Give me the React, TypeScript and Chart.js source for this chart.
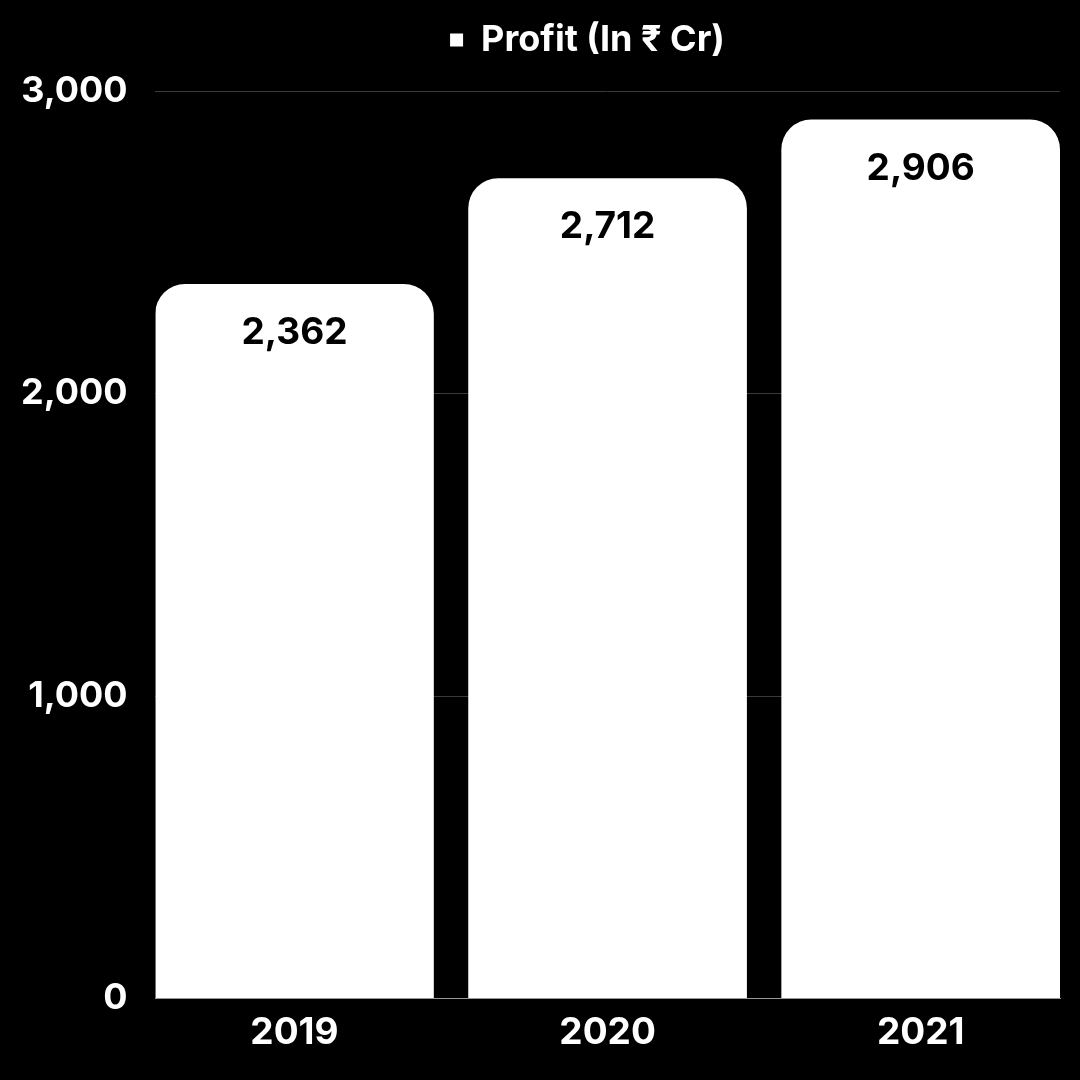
import React, { useEffect, useRef } from "react";
import { Chart, registerables } from "chart.js";

Chart.register(...registerables);

const years = ["2019", "2020", "2021"];
const profit = [2362, 2712, 2906];
const yTicks = [0, 1000, 2000, 3000];
const seriesLabel = "Profit (In ₹ Cr)";

const FONT = "Inter, 'Noto Sans', 'DejaVu Sans', sans-serif";

const valueLabels = {
  id: "valueLabels",
  afterDatasetsDraw(chart: any) {
    const ctx = chart.ctx;
    const meta = chart.getDatasetMeta(0);
    ctx.save();
    ctx.fillStyle = "#000000";
    ctx.font = `700 37px ${FONT}`;
    ctx.textAlign = "center";
    ctx.textBaseline = "middle";
    meta.data.forEach((bar: any, i: number) => {
      const v = chart.data.datasets[0].data[i].y;
      ctx.fillText(v.toLocaleString("en-US"), bar.x, bar.y + 49);
    });
    ctx.restore();
  },
};

const legendSpacer = {
  id: "legendSpacer",
  afterInit(chart: any) {
    const lg = chart.legend;
    if (!lg || lg.__spaced) return;
    const orig = lg.fit.bind(lg);
    lg.fit = function () {
      orig();
      this.height += 23;
    };
    lg.__spaced = true;
  },
  afterLayout(chart: any) {
    const lg = chart.legend;
    if (!lg) return;
    const shift = 61;
    lg.left += shift;
    lg.right += shift;
    if (lg.legendHitBoxes) lg.legendHitBoxes.forEach((h: any) => (h.left += shift));
  },
};

export default function App() {
  const ref = useRef<HTMLCanvasElement>(null);
  useEffect(() => {
    let chart: any = null;
    let cancelled = false;
    const build = () => {
      if (cancelled || !ref.current) return;
      chart = new Chart(ref.current, {
        type: "bar",
        data: {
          datasets: [
            {
              label: seriesLabel,
              data: profit.map((p, i) => ({ x: i, y: p })),
              backgroundColor: "#ffffff",
              borderWidth: 0,
              borderRadius: 30,
              borderSkipped: "start",
              barPercentage: 0.89,
              categoryPercentage: 1,
            },
          ],
        },
        options: {
          animation: false,
          responsive: false,
          maintainAspectRatio: false,
          layout: { padding: { left: -7, right: 20, top: 0, bottom: 13 } },
          plugins: {
            legend: {
              labels: {
                color: "#ffffff",
                font: { family: FONT, size: 36, weight: "bold" },
                boxWidth: 13,
                boxHeight: 13,
                padding: 22,
              },
            },
            tooltip: { enabled: false },
          },
          scales: {
            x: {
              type: "linear",
              offset: false,
              min: -0.444,
              max: 2.445,
              grid: { display: false, drawTicks: false, offset: false },
              border: { display: true, color: "#9a9a9a", width: 1 },
              afterBuildTicks: (scale: any) => {
                scale.ticks = years.map((_, i) => ({ value: i }));
              },
              ticks: {
                color: "#ffffff",
                font: { family: FONT, size: 37, weight: "bold" },
                padding: 12,
                autoSkip: false,
                maxRotation: 0,
                callback: (v: any) => years[Math.round(Number(v))] ?? "",
              },
            },
            y: {
              min: 0,
              max: 3000,
              afterBuildTicks: (scale: any) => {
                scale.ticks = yTicks.map((v) => ({ value: v }));
              },
              grid: { color: "#3a3a3a", lineWidth: 1, drawTicks: false },
              border: { display: false },
              ticks: {
                color: "#ffffff",
                font: { family: FONT, size: 36, weight: "bold" },
                padding: 28,
                callback: (v: any) => Number(v).toLocaleString("en-US"),
              },
            },
          },
        },
        plugins: [legendSpacer, valueLabels],
      } as any);
    };
    const fonts: any = (document as any).fonts;
    if (fonts && fonts.load) {
      Promise.all([
        fonts.load(`700 37px Inter`),
        fonts.load(`700 36px Inter`, "Profit (In ₹ Cr)"),
      ])
        .catch(() => null)
        .then(build);
    } else {
      build();
    }
    return () => {
      cancelled = true;
      if (chart) chart.destroy();
    };
  }, []);

  return (
    <div
      style={{
        position: "absolute",
        left: 0,
        top: 0,
        width: 1080,
        height: 1080,
        background: "#000000",
      }}
    >
      <canvas ref={ref} width={1080} height={1080} style={{ width: 1080, height: 1080 }} />
    </div>
  );
}
